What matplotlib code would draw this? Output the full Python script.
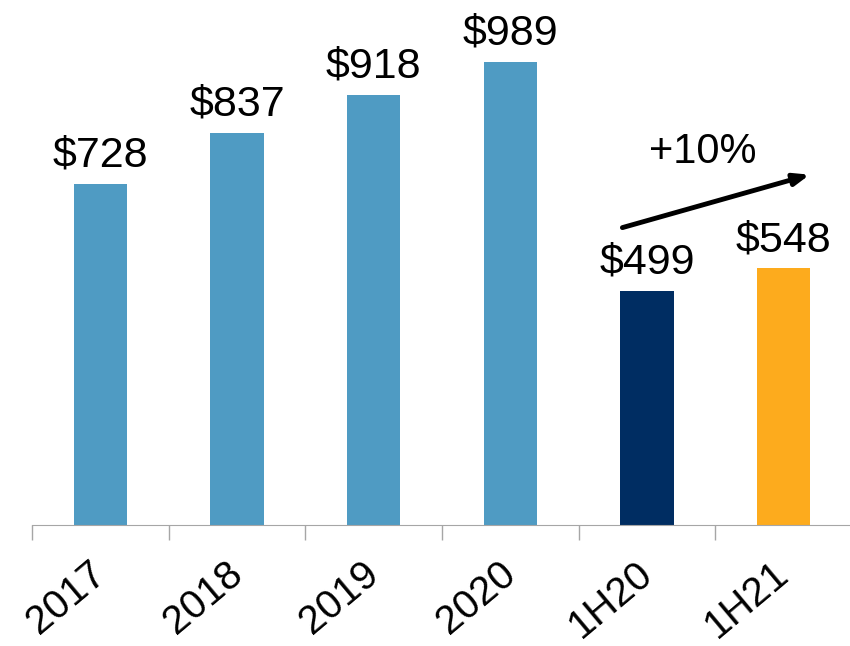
import matplotlib.pyplot as plt
import matplotlib.transforms as mtransforms
import numpy as np

plt.rcParams['font.family'] = ['Liberation Sans', 'DejaVu Sans']

categories = ['2017', '2018', '2019', '2020', '1H20', '1H21']
values = [728, 837, 918, 989, 499, 548]
value_labels = ['$728', '$837', '$918', '$989', '$499', '$548']
colors = ['#4F9BC3', '#4F9BC3', '#4F9BC3', '#4F9BC3', '#002D62', '#FDAB1D']

fig = plt.figure(figsize=(8.5, 6.46), dpi=100)
ax = fig.add_axes([32 / 850, 1 - 525 / 646, 820 / 850, 525 / 646])

x = np.arange(len(categories))
ax.bar(x, values, width=0.39, color=colors, zorder=2)
ax.set_xlim(-0.5, len(categories) - 0.5)
ax.set_ylim(0, 1121)

for xi, v, lab in zip(x, values, value_labels):
    ax.annotate(lab, (xi, v), xytext=(0, 6), textcoords='offset points',
                ha='center', va='bottom', fontsize=31)

# growth arrow
ax.annotate('', xy=(5.19, 748), xytext=(3.82, 635),
            arrowprops=dict(arrowstyle='-|>,head_length=0.9,head_width=0.35',
                            color='black', lw=3.5, shrinkA=0, shrinkB=0))
ax.text(4.41, 797, '+10%', ha='center', va='center', fontsize=30)

for s in ['top', 'right', 'left']:
    ax.spines[s].set_visible(False)
ax.spines['bottom'].set_color('#A6A6A6')
ax.yaxis.set_visible(False)

ax.set_xticks(x)
ax.set_xticklabels(categories, fontsize=29, rotation=40, ha='right', va='top',
                   rotation_mode='anchor')
ax.tick_params(axis='x', which='major', length=0, pad=21)
ax.set_xticks(np.arange(len(categories)) - 0.5, minor=True)
ax.tick_params(axis='x', which='minor', length=11, color='#A6A6A6', width=1)

offset = mtransforms.ScaledTranslation(-12 / 100, 0, fig.dpi_scale_trans)
for lbl in ax.get_xticklabels():
    lbl.set_transform(lbl.get_transform() + offset)

fig.savefig('out.png', dpi=100)
